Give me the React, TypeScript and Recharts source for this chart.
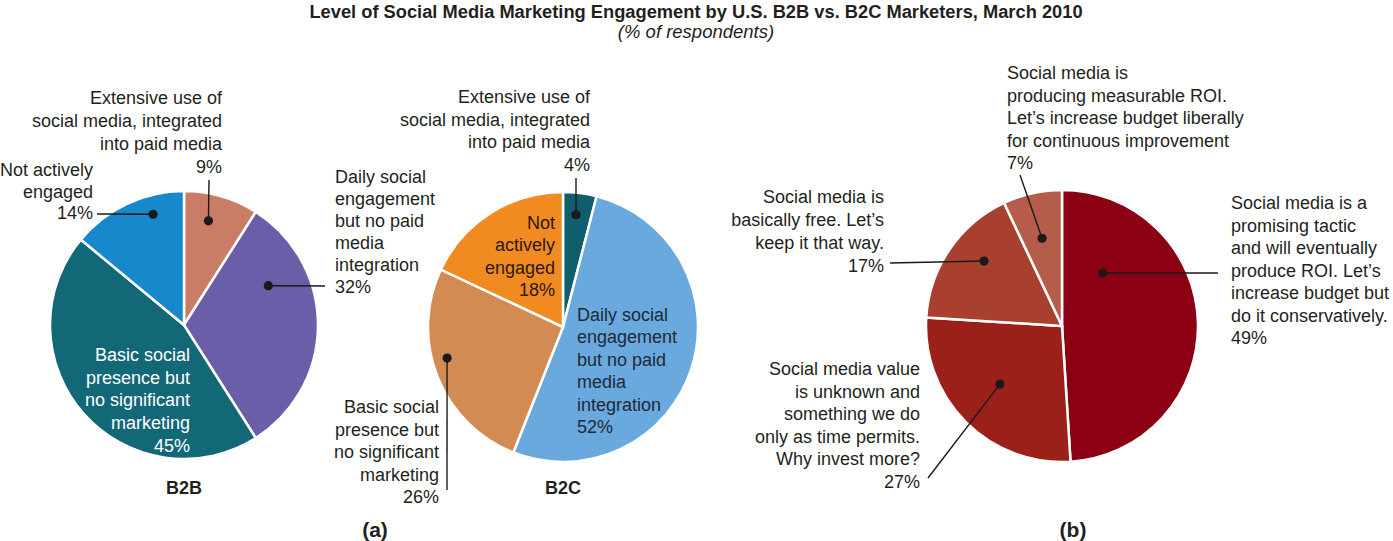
import React from "react";
import { PieChart, Pie, Cell } from "recharts";

const FONT = '"Liberation Sans", Arial, Helvetica, sans-serif';

// ---------- Data ----------
const b2bNames = [
  "Extensive use of\nsocial media, integrated\ninto paid media",
  "Daily social\nengagement\nbut no paid\nmedia\nintegration",
  "Basic social\npresence but\nno significant\nmarketing",
  "Not actively\nengaged",
];
const b2bValues = [9, 32, 45, 14];
const b2bColors = ["#c97d67", "#6b5ea8", "#136877", "#1888cc"];

const b2cNames = [
  "Extensive use of\nsocial media, integrated\ninto paid media",
  "Daily social\nengagement\nbut no paid\nmedia\nintegration",
  "Basic social\npresence but\nno significant\nmarketing",
  "Not\nactively\nengaged",
];
const b2cValues = [4, 52, 26, 18];
const b2cColors = ["#0e5e6d", "#69a9de", "#d28b52", "#f18a20"];

const roiNames = [
  "Social media is a\npromising tactic\nand will eventually\nproduce ROI. Let\u2019s\nincrease budget but\ndo it conservatively.",
  "Social media value\nis unknown and\nsomething we do\nonly as time permits.\nWhy invest more?",
  "Social media is\nbasically free. Let\u2019s\nkeep it that way.",
  "Social media is\nproducing measurable ROI.\nLet\u2019s increase budget liberally\nfor continuous improvement",
];
const roiValues = [49, 27, 17, 7];
const roiColors = ["#8b0012", "#9b2019", "#a9402f", "#b65c4a"];

const titleText = "Level of Social Media Marketing Engagement by U.S. B2B vs. B2C Marketers, March 2010";
const subtitleText = "(% of respondents)";

const toRows = (names: string[], values: number[]) =>
  names.map((n, i) => ({ name: n, value: values[i] }));

// ---------- Label layout (relative to pie centre) ----------
type LabelCfg = {
  dx: number;
  dy: number;
  anchor: "start" | "end" | "middle";
  color: string;
  lh: number;
  dot?: { angleOffset: number; r: number; lx: number; ly: number };
};

const b2bLabels: LabelCfg[] = [
  { dx: 38, dy: -227, anchor: "end", color: "#231f20", lh: 23, dot: { angleOffset: 3, r: 107, lx: 25, ly: -145 } },
  { dx: 151, dy: -148, anchor: "start", color: "#231f20", lh: 22, dot: { angleOffset: 25, r: 93, lx: 141, ly: -39 } },
  { dx: 6, dy: 30, anchor: "end", color: "#ffffff", lh: 22.7 },
  { dx: -91, dy: -155, anchor: "end", color: "#231f20", lh: 21.7, dot: { angleOffset: -9.6, r: 115, lx: -87, ly: -111 } },
];

const b2cLabels: LabelCfg[] = [
  { dx: 27, dy: -230, anchor: "end", color: "#231f20", lh: 22.7, dot: { angleOffset: 0.6, r: 113, lx: 13, ly: -149 } },
  { dx: 14, dy: -12, anchor: "start", color: "#1f2a36", lh: 22.4 },
  { dx: -124, dy: 80, anchor: "end", color: "#231f20", lh: 22.5, dot: { angleOffset: -6.6, r: 120, lx: -116, ly: 163 } },
  { dx: -8, dy: -104, anchor: "end", color: "#2a1a0a", lh: 22.4 },
];

const roiLabels: LabelCfg[] = [
  { dx: 169, dy: -123, anchor: "start", color: "#231f20", lh: 22.5, dot: { angleOffset: 50.5, r: 67, lx: 156, ly: -53 } },
  { dx: -142, dy: 43, anchor: "end", color: "#231f20", lh: 22.6, dot: { angleOffset: -1.9, r: 85, lx: -134, ly: 152 } },
  { dx: -178, dy: -129, anchor: "end", color: "#231f20", lh: 23, dot: { angleOffset: -5.6, r: 101.5, lx: -172, ly: -63 } },
  { dx: -55, dy: -253, anchor: "start", color: "#231f20", lh: 22.5, dot: { angleOffset: 0.2, r: 90, lx: -42, ly: -151 } },
];

const RAD = Math.PI / 180;

const makeLabel = (cfgs: LabelCfg[]) => (props: any) => {
  const { cx, cy, midAngle, index, name, value } = props;
  const cfg = cfgs[index];
  if (!cfg) return null;
  const lines = String(name).split("\n").concat([`${value}%`]);
  let dotEl = null;
  if (cfg.dot) {
    const a = (midAngle + cfg.dot.angleOffset) * RAD;
    const px = cx + cfg.dot.r * Math.cos(-a);
    const py = cy + cfg.dot.r * Math.sin(-a);
    dotEl = (
      <g>
        <line x1={px} y1={py} x2={cx + cfg.dot.lx} y2={cy + cfg.dot.ly} stroke="#1a1a1a" strokeWidth={1.4} />
        <circle cx={px} cy={py} r={4.6} fill="#1a1a1a" />
      </g>
    );
  }
  return (
    <g>
      {dotEl}
      <text
        x={cx + cfg.dx}
        y={cy + cfg.dy}
        textAnchor={cfg.anchor}
        fill={cfg.color}
        fontFamily={FONT}
        fontSize={18}
      >
        {lines.map((l, i) => (
          <tspan key={i} x={cx + cfg.dx} y={cy + cfg.dy + i * cfg.lh} dominantBaseline="central">
            {l}
          </tspan>
        ))}
      </text>
    </g>
  );
};

export default function App() {
  return (
    <div style={{ position: "absolute", left: 0, top: 0, width: 1393, height: 541, background: "#fff" }}>
      <PieChart width={1393} height={541} margin={{ top: 0, right: 0, bottom: 0, left: 0 }}>
        <text x={696} y={11} textAnchor="middle" dominantBaseline="central" fontFamily={FONT} fontWeight="bold" fontSize={18.3} fill="#231f20">
          {titleText}
        </text>
        <text x={696} y={31} textAnchor="middle" dominantBaseline="central" fontFamily={FONT} fontStyle="italic" fontSize={18.5} fill="#231f20">
          {subtitleText}
        </text>
        <Pie
          data={toRows(b2bNames, b2bValues)}
          dataKey="value"
          nameKey="name"
          cx={184}
          cy={325}
          outerRadius={134}
          startAngle={90}
          endAngle={-270}
          stroke="#ffffff"
          strokeWidth={2.5}
          isAnimationActive={false}
          labelLine={false}
          label={makeLabel(b2bLabels)}
        >
          {b2bColors.map((c, i) => (
            <Cell key={i} fill={c} />
          ))}
        </Pie>
        <Pie
          data={toRows(b2cNames, b2cValues)}
          dataKey="value"
          nameKey="name"
          cx={563}
          cy={327}
          outerRadius={135}
          startAngle={90}
          endAngle={-270}
          stroke="#ffffff"
          strokeWidth={2.5}
          isAnimationActive={false}
          labelLine={false}
          label={makeLabel(b2cLabels)}
        >
          {b2cColors.map((c, i) => (
            <Cell key={i} fill={c} />
          ))}
        </Pie>
        <Pie
          data={toRows(roiNames, roiValues)}
          dataKey="value"
          nameKey="name"
          cx={1062}
          cy={326}
          outerRadius={136}
          startAngle={90}
          endAngle={-270}
          stroke="#ffffff"
          strokeWidth={2.5}
          isAnimationActive={false}
          labelLine={false}
          label={makeLabel(roiLabels)}
        >
          {roiColors.map((c, i) => (
            <Cell key={i} fill={c} />
          ))}
        </Pie>
        <text x={184} y={488} textAnchor="middle" dominantBaseline="central" fontFamily={FONT} fontWeight="bold" fontSize={18} fill="#231f20">
          B2B
        </text>
        <text x={563} y={488} textAnchor="middle" dominantBaseline="central" fontFamily={FONT} fontWeight="bold" fontSize={18} fill="#231f20">
          B2C
        </text>
        <text x={375} y={529} textAnchor="middle" dominantBaseline="central" fontFamily={FONT} fontWeight="bold" fontSize={21} fill="#231f20">
          (a)
        </text>
        <text x={1073} y={529} textAnchor="middle" dominantBaseline="central" fontFamily={FONT} fontWeight="bold" fontSize={21} fill="#231f20">
          (b)
        </text>
      </PieChart>
    </div>
  );
}
